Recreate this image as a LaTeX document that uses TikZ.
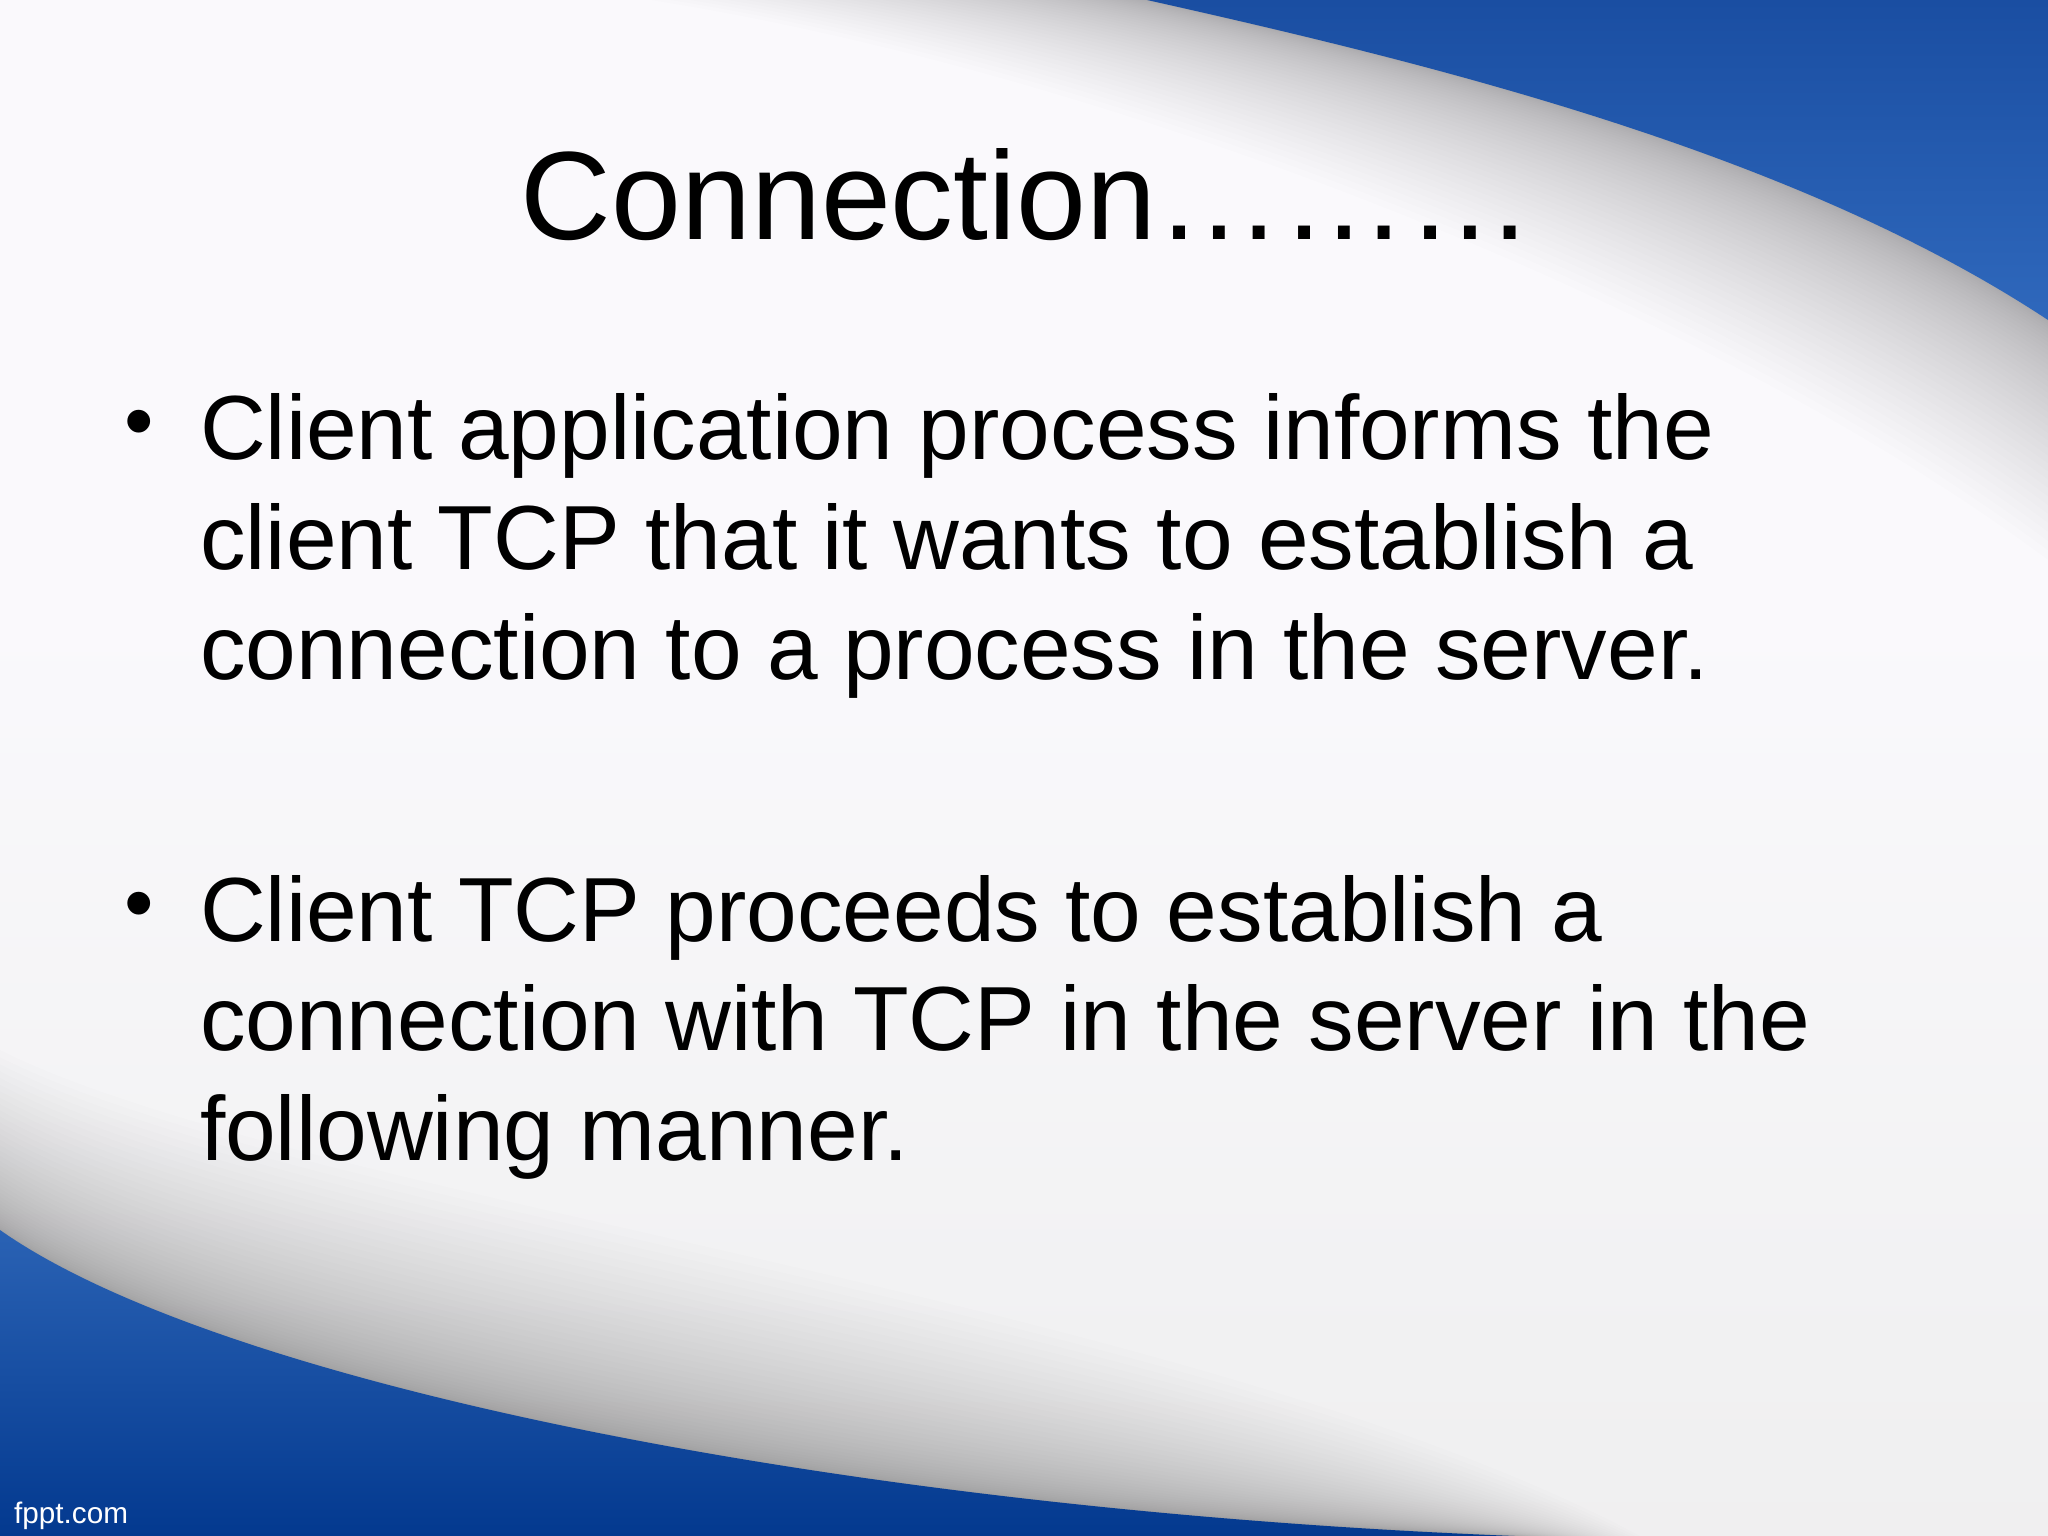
\documentclass[tikz,border=0pt]{standalone}
\usepackage{fontspec}
\setmainfont{Liberation Sans}
\usetikzlibrary{calc}
\definecolor{bgtop}{HTML}{FBFAFD}
\definecolor{bgmid}{HTML}{FAF9FC}
\definecolor{bglow}{HTML}{F1F1F2}
\definecolor{bgbot}{HTML}{EEEDEE}
\definecolor{bluetopA}{HTML}{1A4EA2}
\definecolor{bluetopB}{HTML}{2F68BC}
\definecolor{bluebotA}{HTML}{2A62B4}
\definecolor{bluebotB}{HTML}{03398F}
\pgfdeclareverticalshading{slidebg}{100bp}{
  color(0bp)=(bgbot); color(18bp)=(bgbot); color(31bp)=(bglow); color(55bp)=(bgmid); color(100bp)=(bgtop)}
\tikzset{
  bodyline/.style={anchor=base west,inner sep=0pt,outer sep=0pt,font=\fontsize{91.1}{110}\selectfont,text=black},
  bulletmark/.style={anchor=base,inner sep=0pt,outer sep=0pt,font=\fontsize{84}{100}\selectfont,text=black},
  titleline/.style={anchor=base,inner sep=0pt,outer sep=0pt,font=\fontsize{125.6}{150}\selectfont,text=black},
  shadowlayer/.style={fill=black,fill opacity=0.0095,draw=none}
}
\begin{document}
\begin{tikzpicture}[x=1pt,y=-1pt]
\useasboundingbox (0,0) rectangle (2048,1536);
\clip (0,0) rectangle (2048,1536);
\shade[shading=slidebg] (0,0) rectangle (2048,1536);
% edge curves and shadow limits
\coordinate (a0) at (1147,0);   \coordinate (a1) at (1447,67);  \coordinate (a2) at (1798,155);  \coordinate (a3) at (2048,320);
\coordinate (A0) at (650,0);    \coordinate (A1) at (1100,70);  \coordinate (A2) at (1700,300);  \coordinate (A3) at (2048,560);
\coordinate (b0) at (0,1230);   \coordinate (b1) at (220,1385); \coordinate (b2) at (850,1510);  \coordinate (b3) at (1515,1536);
\coordinate (B0) at (0,1050);   \coordinate (B1) at (300,1200); \coordinate (B2) at (1200,1300); \coordinate (B3) at (1640,1536);
\foreach \i in {1,...,40}{
  \pgfmathsetmacro{\t}{pow(\i/40,1.6)}
  \fill[shadowlayer] ($(a0)!\t!(A0)$) .. controls ($(a1)!\t!(A1)$) and ($(a2)!\t!(A2)$) .. ($(a3)!\t!(A3)$) -- (2048,0) -- cycle;
  \fill[shadowlayer] ($(b0)!\t!(B0)$) .. controls ($(b1)!\t!(B1)$) and ($(b2)!\t!(B2)$) .. ($(b3)!\t!(B3)$) -- (0,1536) -- cycle;
}
\shade[top color=bluetopA,bottom color=bluetopB] (a0) .. controls (a1) and (a2) .. (a3) -- (2048,0) -- cycle;
\shade[top color=bluebotA,bottom color=bluebotB] (b0) .. controls (b1) and (b2) .. (b3) -- (0,1536) -- cycle;
% text
\node[titleline] (title) at (1027,239) {Connection………};
\node[bulletmark] (bulletone) at (139,449) {•};
\node[bodyline] (l1) at (200,459) {Client application process informs the};
\node[bodyline] (l2) at (200,569) {client TCP that it wants to establish a};
\node[bodyline] (l3) at (200,679) {connection to a process in the server.};
\node[bulletmark] (bullettwo) at (139,931) {•};
\node[bodyline] (l4) at (200,941) {Client TCP proceeds to establish a};
\node[bodyline] (l5) at (200,1050) {connection with TCP in the server in the};
\node[bodyline] (l6) at (200,1160) {following manner.};
\node[anchor=base west,inner sep=0pt,text=white,font=\fontsize{29.7}{36}\selectfont] (brand) at (14,1523) {fppt.com};
\end{tikzpicture}
\end{document}
